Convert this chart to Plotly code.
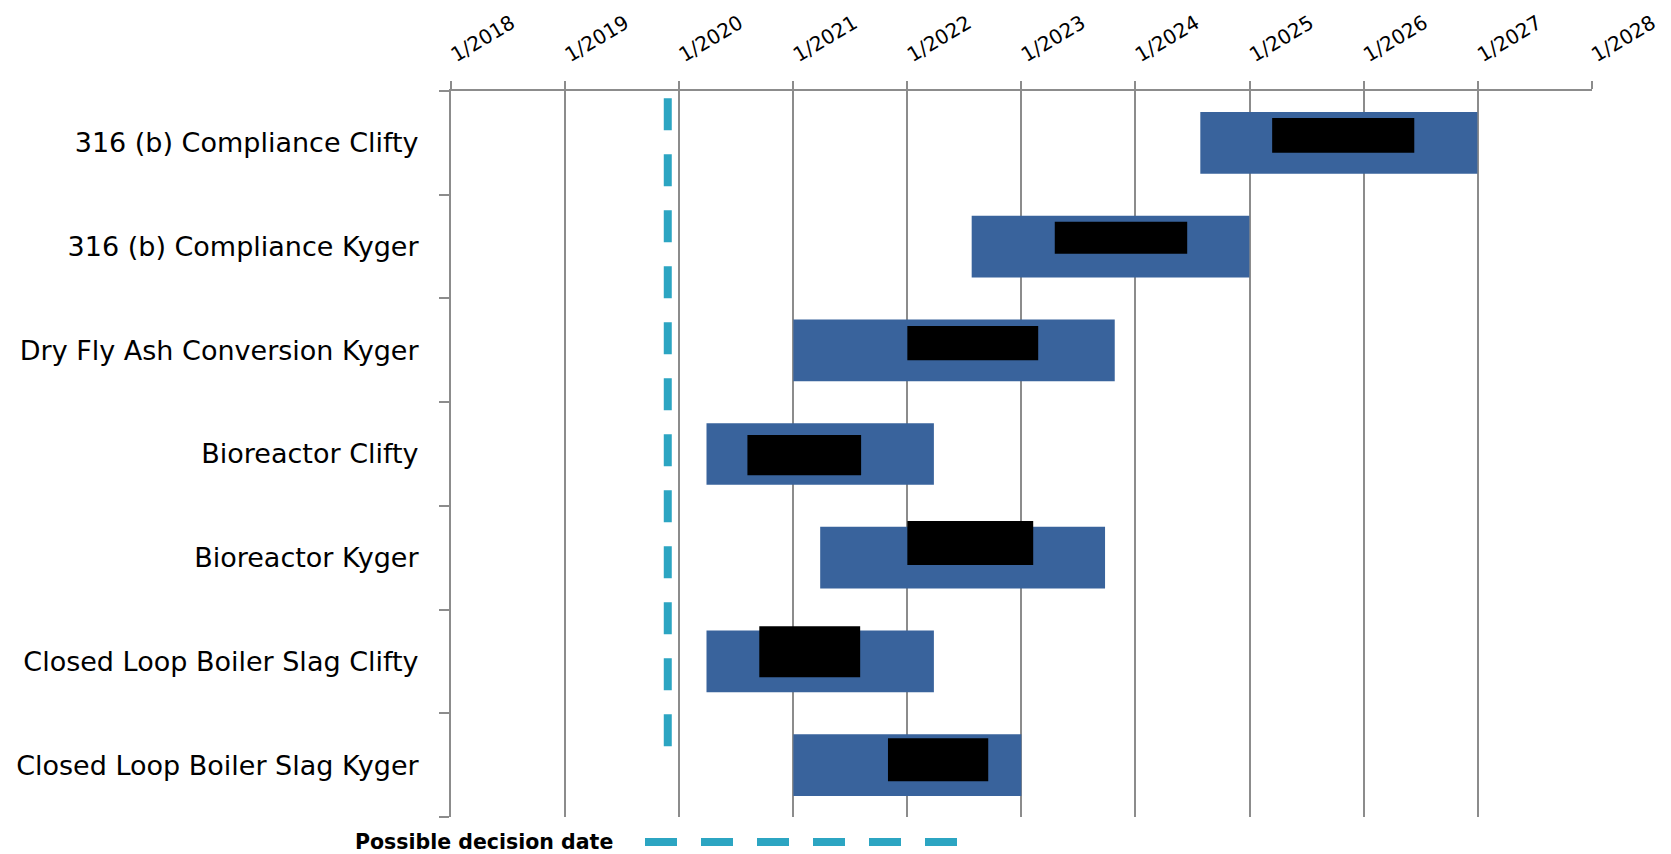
import pandas as pd
import plotly.graph_objects as go

# ---------------- data ----------------
categories = [
    "316 (b) Compliance Clifty",
    "316 (b) Compliance Kyger",
    "Dry Fly Ash Conversion Kyger",
    "Bioreactor Clifty",
    "Bioreactor Kyger",
    "Closed Loop Boiler Slag Clifty",
    "Closed Loop Boiler Slag Kyger",
]
range_start = ["2024-07-27", "2022-07-26", "2021-01-01", "2020-03-29", "2021-03-28", "2020-03-29", "2021-01-01"]
range_end = ["2026-12-31", "2024-12-31", "2023-10-27", "2022-03-27", "2023-09-26", "2022-03-27", "2023-01-01"]
likely_start = ["2025-03-14", "2023-04-18", "2022-01-01", "2020-08-07", "2022-01-01", "2020-09-14", "2021-10-31"]
likely_end = ["2026-06-12", "2024-06-15", "2023-02-24", "2021-08-06", "2023-02-08", "2021-08-03", "2022-09-17"]
decision_date = "2019-11-26"
legend_label = "Possible decision date"
tick_years = list(range(2018, 2029))
tick_labels = [f"1/{y}" for y in tick_years]

# ---------------- styles ----------------
BLUE = "#39639c"
BLACK = "#000000"
TEAL = "#2ca5c2"
GRID = "#8c8c8c"
FONT = "DejaVu Sans"
range_bar_width = 0.595
likely_offset = [-0.24, -0.24, -0.233, -0.183, -0.353, -0.34, -0.26]
likely_width = [0.335, 0.31, 0.33, 0.389, 0.424, 0.492, 0.415]
decision_span = [-0.43, 6.05]

# page body has an 8px margin: shrink the figure so it lands on the same pixels
BODY = 8
W, H = 1671 - BODY, 854 - BODY
ML, MR, MT, MB = 451 - BODY, 79, 91 - BODY, 37

pos = list(range(len(categories)))


def dur_ms(s, e):
    return list((pd.to_datetime(pd.Series(e)) - pd.to_datetime(pd.Series(s))).dt.total_seconds() * 1000)


fig = go.Figure()
fig.add_trace(go.Bar(
    orientation="h", y=pos, base=range_start, x=dur_ms(range_start, range_end),
    width=range_bar_width, marker=dict(color=BLUE, line=dict(width=0)),
    showlegend=False, hoverinfo="skip",
))
fig.add_trace(go.Bar(
    orientation="h", y=pos, base=likely_start, x=dur_ms(likely_start, likely_end),
    width=likely_width, offset=likely_offset, marker=dict(color=BLACK, line=dict(width=0)),
    showlegend=False, hoverinfo="skip",
))
fig.add_trace(go.Scatter(
    x=[decision_date, decision_date], y=decision_span, mode="lines",
    line=dict(color=TEAL, width=8, dash="32px,24px"),
    showlegend=False, hoverinfo="skip",
))

n = len(categories)
fig.update_layout(
    width=W, height=H,
    margin=dict(l=ML, r=MR, t=MT, b=MB),
    plot_bgcolor="white", paper_bgcolor="white",
    barmode="overlay",
    font=dict(family=FONT, color="black"),
    xaxis=dict(
        type="date", side="top", automargin=False,
        range=["2018-01-01", "2028-01-02"],
        tickmode="array",
        tickvals=[f"{y}-01-01" for y in tick_years],
        ticktext=tick_labels,
        tickangle=-31,
        tickfont=dict(size=20, family=FONT, color="black"),
        ticklabelstandoff=9,
        showgrid=True, gridcolor=GRID, gridwidth=2,
        ticks="outside", ticklen=8, tickwidth=2, tickcolor=GRID,
        showline=True, linecolor=GRID, linewidth=2,
        zeroline=False,
    ),
    yaxis=dict(
        range=[n - 0.5, -0.5], automargin=False,
        tickmode="array", tickvals=pos, ticktext=categories,
        tickfont=dict(size=27, family=FONT, color="black"),
        ticks="", ticklabelstandoff=25,
        showgrid=False, zeroline=False,
        showline=True, linecolor=GRID, linewidth=2,
        minor=dict(tickmode="array", tickvals=[i - 0.5 for i in range(n + 1)],
                   ticks="outside", ticklen=10, tickwidth=2, tickcolor=GRID, showgrid=False),
    ),
)

# legend (drawn manually to match the long dashed sample)
plot_w = W - ML - MR
plot_h = H - MT - MB


def px_x(px):
    return (px - BODY - ML) / plot_w


def px_y(py):
    return (H - MB - (py - BODY)) / plot_h


fig.add_annotation(
    text=f"<b>{legend_label}</b>", xref="paper", yref="paper",
    x=px_x(615), y=px_y(842), xanchor="right", yanchor="middle",
    showarrow=False, font=dict(size=20.5, family=FONT, color="black"),
)
fig.add_shape(
    type="line", xref="paper", yref="paper",
    x0=px_x(645), x1=px_x(958), y0=px_y(842), y1=px_y(842),
    line=dict(color=TEAL, width=8, dash="32px,24px"),
)

fig.write_html("out.html")
